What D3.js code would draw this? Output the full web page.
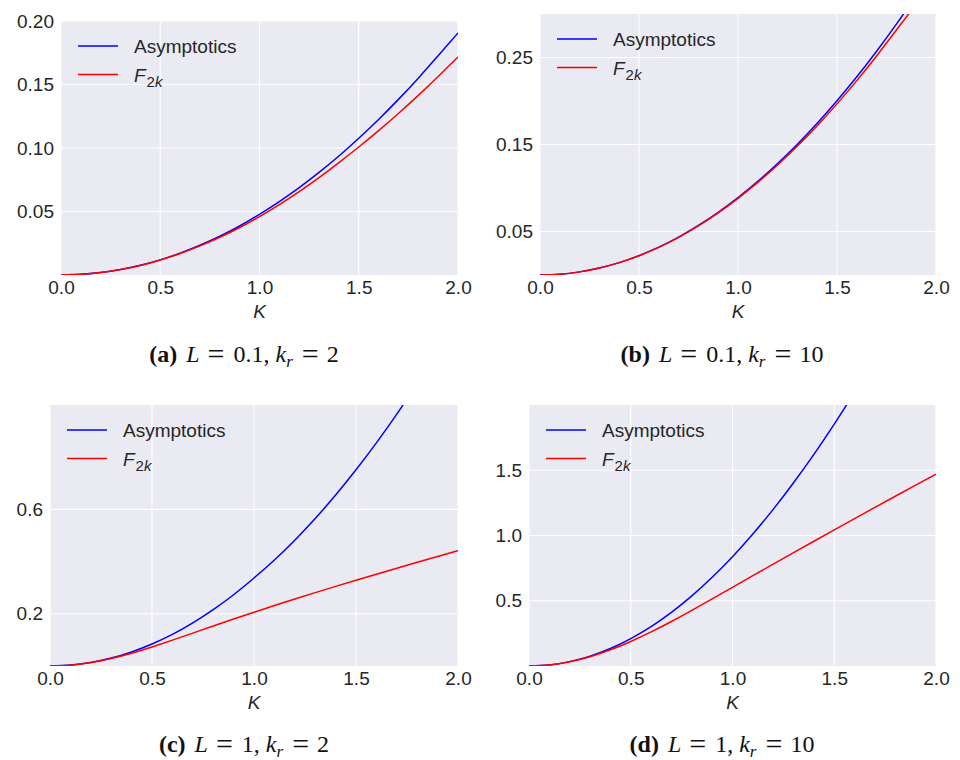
<!DOCTYPE html>
<html>
<head>
<meta charset="utf-8">
<script src="https://cdn.jsdelivr.net/npm/d3@7"></script>
<style>
body { margin: 0; background: #fff; }
svg { display: block; }
.tick-label { font-family: "Liberation Sans", Arial, sans-serif; font-size: 19px; fill: #262626; }
.caption { font-family: "Liberation Serif", "DejaVu Serif", serif; font-size: 24px; fill: #111; }
</style>
</head>
<body>
<svg id="chart" width="960" height="760"></svg>
<script>
// K grid, shared by all four panels
const kValues = [0, 0.1, 0.2, 0.3, 0.4, 0.5, 0.6, 0.7, 0.8, 0.9, 1.0,
  1.1, 1.2, 1.3, 1.4, 1.5, 1.6, 1.7, 1.8, 1.9, 2.0]

// (a) L = 0.1, kr = 2
const asymA = [0, 0.0005, 0.0019, 0.0043, 0.0076, 0.0119, 0.0172, 0.0234, 0.0305, 0.0386, 0.0478,
  0.0578, 0.0688, 0.0808, 0.0937, 0.1077, 0.1225, 0.1383, 0.1550, 0.1727, 0.1906]
const f2kA = [0, 0.0005, 0.0019, 0.0043, 0.0075, 0.0118, 0.0169, 0.0229, 0.0297, 0.0374, 0.0460,
  0.0555, 0.0657, 0.0767, 0.0885, 0.1008, 0.1137, 0.1272, 0.1414, 0.1563, 0.1717]

// (b) L = 0.1, kr = 10
const asymB = [0, 0.0009, 0.0036, 0.0080, 0.0142, 0.0223, 0.0320, 0.0436, 0.0570, 0.0721, 0.0890,
  0.1077, 0.1282, 0.1504, 0.1744, 0.2003, 0.2278, 0.2572, 0.2884, 0.3213, 0.3560]
const f2kB = [0, 0.0009, 0.0036, 0.0080, 0.0142, 0.0222, 0.0318, 0.0433, 0.0565, 0.0714, 0.0881,
  0.1064, 0.1265, 0.1482, 0.1716, 0.1967, 0.2234, 0.2517, 0.2816, 0.3117, 0.3440]

// (c) L = 1, kr = 2
const asymC = [0, 0.0034, 0.0135, 0.0303, 0.0539, 0.0842, 0.1210, 0.1650, 0.2160, 0.2730, 0.3370,
  0.4060, 0.4820, 0.5650, 0.6550, 0.7520, 0.8550, 0.9650, 1.0820, 1.2060, 1.3360]
const f2kC = [0, 0.0033, 0.0130, 0.0290, 0.0490, 0.0730, 0.0990, 0.1260, 0.1532, 0.1800, 0.2062,
  0.2317, 0.2566, 0.2810, 0.3050, 0.3286, 0.3518, 0.3747, 0.3973, 0.4197, 0.4419]

// (d) L = 1, kr = 10
const asymD = [0, 0.0084, 0.0336, 0.0756, 0.1340, 0.2100, 0.3020, 0.4110, 0.5370, 0.6800, 0.8380,
  1.0120, 1.2000, 1.4040, 1.6220, 1.8540, 2.1000, 2.3700, 2.6500, 2.9500, 3.2700]
const f2kD = [0, 0.0080, 0.0320, 0.0710, 0.1240, 0.1880, 0.2610, 0.3410, 0.4260, 0.5140, 0.6030,
  0.6920, 0.7805, 0.8685, 0.9560, 1.0430, 1.1295, 1.2155, 1.3010, 1.3860, 1.4705]

const xTicks = [0, 0.5, 1.0, 1.5, 2.0]
const yTicksA = [0.05, 0.10, 0.15, 0.20]
const yTicksB = [0.05, 0.15, 0.25]
const yTicksC = [0.2, 0.6]
const yTicksD = [0.5, 1.0, 1.5]

const seriesNames = ['Asymptotics', 'F2k']
const seriesColors = ['#0000ff', '#ff0000']

const panels = [
  {id: 'a', L: '0.1', kr: '2', box: [61, 21, 458, 275], yMax: 0.2, yTicks: yTicksA, fmt: '.2f', asym: asymA, f2k: f2kA, capX: 244, capY: 362},
  {id: 'b', L: '0.1', kr: '10', box: [540, 14, 936, 275], yMax: 0.3, yTicks: yTicksB, fmt: '.2f', asym: asymB, f2k: f2kB, capX: 722, capY: 362},
  {id: 'c', L: '1', kr: '2', box: [50, 405, 458, 666], yMax: 1.0, yTicks: yTicksC, fmt: '.1f', asym: asymC, f2k: f2kC, capX: 244, capY: 752},
  {id: 'd', L: '1', kr: '10', box: [529, 405, 936, 666], yMax: 2.0, yTicks: yTicksD, fmt: '.1f', asym: asymD, f2k: f2kD, capX: 722, capY: 752}
]

const svg = d3.select('#chart')

function drawPanel(p) {
  const [x0, y0, x1, y1] = p.box
  const x = d3.scaleLinear().domain([0, 2]).range([x0, x1])
  const y = d3.scaleLinear().domain([0, p.yMax]).range([y1, y0])
  const g = svg.append('g').attr('class', 'panel-' + p.id)

  g.append('rect')
  .attr('x', x0).attr('y', y0)
  .attr('width', x1 - x0).attr('height', y1 - y0)
  .attr('fill', '#eaeaf2')

  g.append('clipPath').attr('id', 'clip-' + p.id)
  .append('rect')
  .attr('x', x0).attr('y', y0)
  .attr('width', x1 - x0).attr('height', y1 - y0)

  // grid
  g.append('g')
  .selectAll('line')
  .data(xTicks)
  .enter()
  .append('line')
  .attr('x1', d => x(d)).attr('x2', d => x(d))
  .attr('y1', y0).attr('y2', y1)
  .attr('stroke', '#fff').attr('stroke-width', 1.1)

  g.append('g')
  .selectAll('line')
  .data(p.yTicks)
  .enter()
  .append('line')
  .attr('x1', x0).attr('x2', x1)
  .attr('y1', d => y(d)).attr('y2', d => y(d))
  .attr('stroke', '#fff').attr('stroke-width', 1.1)

  // axes (labels only, no spines)
  const xAxis = g.append('g')
  .attr('transform', `translate(0,${y1})`)
  .call(d3.axisBottom(x).tickValues(xTicks).tickFormat(d3.format('.1f')).tickSize(0).tickPadding(6))
  const yAxis = g.append('g')
  .attr('transform', `translate(${x0},0)`)
  .call(d3.axisLeft(y).tickValues(p.yTicks).tickFormat(d3.format(p.fmt)).tickSize(0).tickPadding(7))
  ;[xAxis, yAxis].forEach(a => {
    a.select('.domain').remove()
    a.selectAll('text').attr('class', 'tick-label').attr('fill', null)
  })

  g.append('text')
  .attr('class', 'tick-label')
  .attr('x', (x0 + x1) / 2)
  .attr('y', y1 + 43)
  .attr('text-anchor', 'middle')
  .style('font-style', 'italic')
  .text('K')

  // curves
  const line = d3.line()
  .x((d, i) => x(kValues[i]))
  .y(d => y(d))
  .curve(d3.curveNatural)

  const curves = g.append('g').attr('clip-path', `url(#clip-${p.id})`)
  ;[p.asym, p.f2k].forEach((vals, i) => {
    curves.append('path')
    .datum(vals)
    .attr('fill', 'none')
    .attr('stroke', seriesColors[i])
    .attr('stroke-width', 1.5)
    .attr('d', line)
  })

  // legend
  seriesNames.forEach((name, i) => {
    const ly = y0 + 25 + i * 28.5
    g.append('line')
    .attr('x1', x0 + 17).attr('x2', x0 + 57)
    .attr('y1', ly).attr('y2', ly)
    .attr('stroke', seriesColors[i]).attr('stroke-width', 1.5)
    const t = g.append('text')
    .attr('class', 'tick-label')
    .attr('x', x0 + 73)
    .attr('y', ly + 7)
    if (name === 'F2k') {
      t.append('tspan').style('font-style', 'italic').text('F')
      t.append('tspan').attr('dx', 1).attr('dy', 5).style('font-size', '15px').text('2')
      t.append('tspan').style('font-size', '15px').style('font-style', 'italic').text('k')
    } else {
      t.text(name)
    }
  })

  // caption, spaced like TeX math
  const cap = svg.append('text')
  .attr('class', 'caption')
  .attr('x', p.capX)
  .attr('y', p.capY)
  .attr('text-anchor', 'middle')
  cap.append('tspan').style('font-weight', 'bold').text(`(${p.id})`)
  cap.append('tspan').attr('dx', 9).style('font-style', 'italic').text('L')
  cap.append('tspan').attr('dx', 8).attr('dy', 2).style('font-size', '30px').text('=')
  cap.append('tspan').attr('dx', 9).attr('dy', -2).text(`${p.L},`)
  cap.append('tspan').attr('dx', 6).style('font-style', 'italic').text('k')
  cap.append('tspan').attr('dy', 5).style('font-size', '17px').style('font-style', 'italic').text('r')
  cap.append('tspan').attr('dx', 9).attr('dy', -3).style('font-size', '30px').text('=')
  cap.append('tspan').attr('dx', 8).attr('dy', -2).text(p.kr)
}

panels.forEach(drawPanel)
</script>
</body>
</html>
